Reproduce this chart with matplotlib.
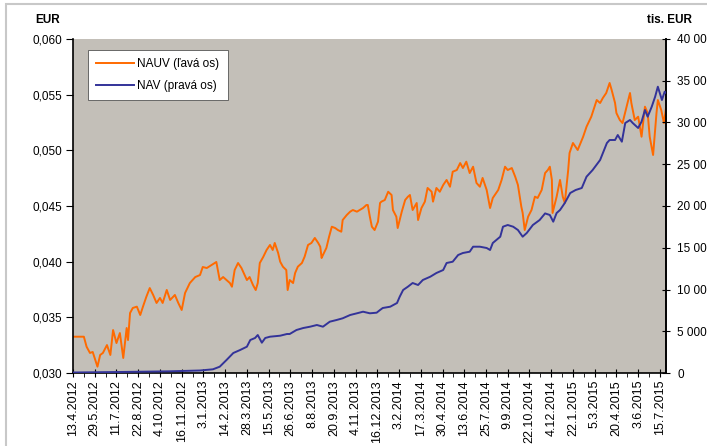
import matplotlib
matplotlib.use("Agg")
import matplotlib.pyplot as plt
from matplotlib.patches import Rectangle
from matplotlib.ticker import FixedLocator, FuncFormatter

plt.rcParams['font.family'] = ['Liberation Sans', 'DejaVu Sans']

# x-axis tick labels (every 32 trading days)
tick_labels = ["13.4.2012", "29.5.2012", "11.7.2012", "22.8.2012", "4.10.2012", "16.11.2012",
               "3.1.2013", "14.2.2013", "28.3.2013", "15.5.2013", "26.6.2013", "8.8.2013",
               "20.9.2013", "4.11.2013", "16.12.2013", "3.2.2014", "17.3.2014", "30.4.2014",
               "13.6.2014", "25.7.2014", "9.9.2014", "22.10.2014", "4.12.2014", "22.1.2015",
               "5.3.2015", "20.4.2015", "3.6.2015", "15.7.2015"]
tick_step = 32

# NAUV (left axis, EUR) - trading-day index and value
nauv_day = [0, 16, 20, 25, 29, 36, 40, 44, 50, 55, 59, 64, 69, 74, 79, 81, 84, 88, 94, 99,
            103, 108, 113, 118, 123, 128, 132, 138, 143, 150, 155, 160, 165, 172, 180, 187,
            191, 197, 204, 211, 216, 221, 226, 231, 234, 238, 243, 248, 256, 260, 265, 269,
            272, 275, 280, 285, 290, 294, 297, 302, 305, 309, 314, 316, 319, 324, 327, 331,
            337, 341, 346, 351, 356, 361, 364, 366, 368, 373, 377, 381, 386, 390, 395, 397,
            403, 408, 412, 418, 422, 427, 432, 434, 437, 440, 444, 449, 452, 454, 459, 464,
            469, 471, 476, 478, 484, 489, 493, 496, 500, 506, 508, 513, 518, 522, 528, 530,
            535, 540, 545, 550, 555, 559, 565, 570, 574, 579, 584, 589, 594, 599, 603, 609,
            614, 618, 626, 631, 636, 640, 646, 651, 655, 660, 662, 665, 670, 675, 680, 684,
            690, 695, 699, 702, 705, 706, 712, 717, 721, 724, 729, 731, 736, 743, 751, 756,
            763, 771, 776, 780, 785, 790, 793, 798, 800, 805, 809, 815, 820, 822, 827, 832,
            837, 842, 846, 849, 854, 859, 861, 866, 870, 873]
nauv_val = [0.03326, 0.03326, 0.03236, 0.03180, 0.03189, 0.03057, 0.03162, 0.03180, 0.03251,
            0.03162, 0.03386, 0.03269, 0.03359, 0.03135, 0.03404, 0.03296, 0.03539, 0.03584,
            0.03596, 0.03521, 0.03596, 0.03685, 0.03763, 0.03701, 0.03629, 0.03674, 0.03629,
            0.03746, 0.03656, 0.03701, 0.03629, 0.03566, 0.03719, 0.03808, 0.03862, 0.03880,
            0.03952, 0.03943, 0.03970, 0.03997, 0.03835, 0.03862, 0.03835, 0.03808, 0.03775,
            0.03925, 0.03988, 0.03943, 0.03835, 0.03862, 0.03790, 0.03745, 0.03808, 0.03988,
            0.04042, 0.04105, 0.04150, 0.04105, 0.04168, 0.04078, 0.04000, 0.03955, 0.03925,
            0.03745, 0.03835, 0.03808, 0.03898, 0.03955, 0.03988, 0.04045, 0.04150, 0.04168,
            0.04213, 0.04168, 0.04134, 0.04033, 0.04060, 0.04123, 0.04224, 0.04314, 0.04302,
            0.04284, 0.04269, 0.04374, 0.04419, 0.04449, 0.04464, 0.04449, 0.04464, 0.04482,
            0.04509, 0.04509, 0.04404, 0.04314, 0.04284, 0.04359, 0.04527, 0.04539, 0.04554,
            0.04628, 0.04599, 0.04464, 0.04404, 0.04302, 0.04449, 0.04554, 0.04583, 0.04599,
            0.04464, 0.04527, 0.04374, 0.04482, 0.04539, 0.04662, 0.04628, 0.04539, 0.04662,
            0.04628, 0.04689, 0.04734, 0.04673, 0.04808, 0.04823, 0.04886, 0.04841, 0.04898,
            0.04796, 0.04853, 0.04707, 0.04673, 0.04752, 0.04644, 0.04482, 0.04572, 0.04644,
            0.04734, 0.04853, 0.04823, 0.04841, 0.04763, 0.04689, 0.04494, 0.04437, 0.04284,
            0.04404, 0.04464, 0.04584, 0.04572, 0.04644, 0.04796, 0.04823, 0.04853, 0.04734,
            0.04437, 0.04584, 0.04734, 0.04584, 0.04527, 0.04823, 0.04976, 0.05066, 0.05003,
            0.05122, 0.05212, 0.05302, 0.05452, 0.05425, 0.05470, 0.05515, 0.05605, 0.05542,
            0.05425, 0.05335, 0.05272, 0.05245, 0.05392, 0.05515, 0.05425, 0.05272, 0.05302,
            0.05122, 0.05392, 0.05335, 0.05122, 0.04958, 0.05335, 0.05452, 0.05362, 0.05245,
            0.05380]

# NAV (right axis, tis. EUR)
nav_day = [0, 69, 143, 187, 206, 216, 226, 236, 246, 256, 261, 268, 272, 278, 283, 290, 305,
           315, 319, 329, 339, 349, 359, 368, 378, 388, 397, 408, 418, 427, 437, 447, 452,
           456, 467, 477, 481, 486, 493, 500, 508, 515, 526, 535, 545, 550, 559, 567, 574,
           584, 589, 599, 609, 614, 618, 629, 633, 640, 648, 655, 662, 668, 677, 687, 695,
           702, 707, 712, 717, 724, 732, 740, 749, 756, 765, 776, 786, 790, 798, 802, 808,
           813, 820, 824, 832, 837, 842, 846, 852, 857, 861, 867, 871, 873]
nav_val = [60, 120, 204, 300, 443, 754, 1557, 2395, 2754, 3150, 3952, 4192, 4551, 3629, 4192,
           4347, 4467, 4671, 4671, 5150, 5389, 5545, 5748, 5545, 6144, 6347, 6551, 6946, 7150,
           7341, 7150, 7222, 7545, 7784, 7940, 8383, 9138, 9940, 10335, 10778, 10539, 11138,
           11533, 11976, 12335, 13174, 13329, 14132, 14371, 14527, 15126, 15126, 14970, 14731,
           15569, 16323, 17521, 17724, 17521, 17126, 16323, 16766, 17724, 18323, 19114, 18922,
           18120, 19162, 19521, 20359, 21557, 21916, 22156, 23509, 24311, 25509, 27545, 27904,
           27904, 28503, 27701, 29940, 30299, 29940, 29341, 30096, 31497, 30695, 31892, 33090,
           34287, 32695, 33688, 33533]

orange = '#ff6a00'
blue = '#333399'
bg = '#c3bfb8'

fig = plt.figure(figsize=(7.07, 4.46), dpi=100)
W, H = 707, 446
ax = fig.add_axes([73 / W, 1 - 373 / H, (666 - 73) / W, (373 - 39) / H])
ax.set_facecolor(bg)

ax.plot(nauv_day, nauv_val, color=orange, lw=1.4, label='NAUV (ľavá os)', zorder=2)
ax.set_ylim(0.030, 0.060)
ax.set_xlim(0, 873)
ax.set_yticks([0.030, 0.035, 0.040, 0.045, 0.050, 0.055, 0.060])
ax.yaxis.set_major_formatter(FuncFormatter(lambda v, p: f"{v:.3f}".replace('.', ',')))

n_ticks = len(tick_labels)
ax.set_xticks([i * tick_step for i in range(n_ticks)])
ax.set_xticklabels(tick_labels, rotation=90, fontsize=9)
ax.xaxis.set_minor_locator(FixedLocator([i * tick_step + tick_step / 2 for i in range(n_ticks)]))
ax.tick_params(axis='x', which='major', direction='inout', length=6, width=0.8, pad=2)
ax.tick_params(axis='x', which='minor', direction='out', length=3, width=0.6)
ax.tick_params(axis='y', direction='out', length=5, width=0.8, labelsize=8.5, pad=3)

for s in ['left', 'bottom', 'right']:
    ax.spines[s].set_linewidth(1.2)
ax.spines['top'].set_visible(False)

ax2 = ax.twinx()
ax2.plot(nav_day, nav_val, color=blue, lw=1.4, label='NAV (pravá os)', zorder=3)
ax2.set_ylim(0, 40000)
ax2.set_yticks(range(0, 40001, 5000))
ax2.yaxis.set_major_formatter(FuncFormatter(lambda v, p: f"{int(v):,}".replace(',', ' ')))
ax2.tick_params(axis='y', direction='inout', length=6, width=0.8, labelsize=8.5, pad=5)
ax2.spines['top'].set_visible(False)
ax2.spines['right'].set_linewidth(1.2)
ax2.spines['left'].set_visible(False)
ax2.spines['bottom'].set_visible(False)

h1, l1 = ax.get_legend_handles_labels()
h2, l2 = ax2.get_legend_handles_labels()
leg = ax2.legend(h1 + h2, l1 + l2, loc='upper left', bbox_to_anchor=(0.025, 0.967),
                 borderaxespad=0, frameon=True, fancybox=False, fontsize=8.5,
                 handlelength=3.2, handletextpad=0.3, borderpad=0.7, labelspacing=0.8)
leg.get_frame().set_edgecolor('#555555')
leg.get_frame().set_linewidth(0.6)
leg.get_frame().set_facecolor('white')
leg.get_frame().set_alpha(1)

fig.text(35 / W, 1 - 20 / H, 'EUR', fontsize=8.5, fontweight='bold', ha='left', va='center')
fig.text(692 / W, 1 - 20 / H, 'tis. EUR', fontsize=8.5, fontweight='bold', ha='right', va='center')

fig.add_artist(Rectangle((6 / W, -0.1), 2, 1 - 4 / H + 0.1, transform=fig.transFigure,
                         fill=False, edgecolor='#c8c8c8', lw=1.5))

fig.savefig('out.png', dpi=100)
